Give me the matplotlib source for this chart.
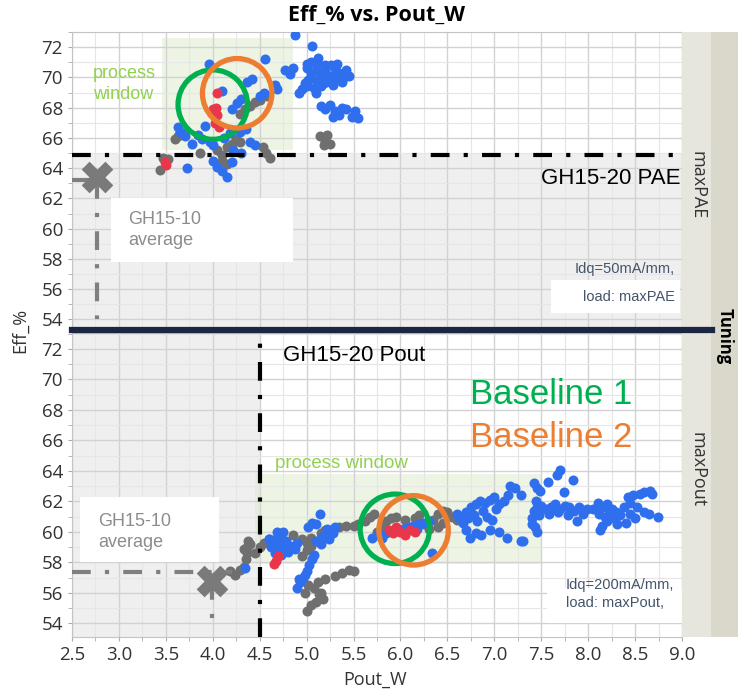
import matplotlib.pyplot as plt
from matplotlib.patches import Rectangle
from matplotlib.lines import Line2D

# ---- top panel (maxPAE) ----
top_blue_x = [4.88, 5.06, 5.12, 5.0, 5.05, 5.1, 5.15, 5.2, 5.25, 5.3, 5.35, 5.4, 5.18, 5.08, 5.02,
              4.95, 5.22, 5.28, 5.45, 5.12, 5.32, 5.38, 5.15, 5.26, 4.98,
              5.0, 5.05, 5.2, 5.1, 5.3, 5.35, 5.42, 5.18, 5.25, 5.0, 5.1, 4.92,
              5.15, 5.2, 5.25, 5.3, 5.35, 5.42, 5.48, 5.52, 5.55, 5.28, 5.38,
              3.96, 4.56, 4.36, 4.42, 4.77, 4.86, 4.82, 4.66, 4.68, 4.5, 4.55, 4.1, 3.63, 3.65,
              3.7, 3.84, 3.88, 3.97, 4.0, 4.29, 4.35, 3.73, 4.0, 4.05, 4.1, 4.15, 4.4, 4.45,
              4.26, 4.3, 4.2, 3.78, 3.92, 4.12, 4.18, 4.22, 4.2, 4.3]
top_blue_y = [72.8, 72.1, 71.3, 70.6, 70.2, 70.5, 70.0, 70.4, 70.1, 70.6, 70.3, 70.0, 69.6, 69.3, 69.8,
              69.2, 69.9, 69.5, 70.1, 70.9, 70.9, 69.7, 69.4, 70.8, 69.6,
              70.9, 71.0, 70.8, 69.8, 70.2, 69.9, 70.5, 70.2, 69.7, 69.4, 69.0, 69.0,
              68.1, 67.9, 68.2, 67.8, 67.5, 67.9, 67.4, 67.8, 67.3, 67.4, 68.0,
              70.9, 71.2, 69.7, 69.9, 70.5, 70.6, 70.2, 69.5, 69.2, 68.8, 69.0, 69.1, 66.7, 66.4,
              66.1, 66.2, 65.9, 65.7, 65.5, 66.4, 66.6, 64.0, 64.5, 64.1, 63.8, 63.4, 65.7, 65.5,
              68.3, 68.6, 67.9, 65.6, 66.8, 66.0, 66.3, 65.2, 64.4, 65.0]
top_gray_x = [3.44, 3.47, 3.52, 3.6, 3.63, 3.67, 3.86, 4.05, 4.1, 4.15, 4.2, 4.25, 4.29, 4.1, 4.15,
              4.29, 4.34, 4.4, 4.45, 4.5, 4.58, 4.54, 4.57, 4.61, 5.14, 5.2, 5.25, 5.18, 5.22]
top_gray_y = [63.9, 64.7, 64.6, 65.9, 66.1, 66.3, 65.0, 65.2, 64.9, 65.4, 65.6, 65.9, 65.7, 64.5, 64.3,
              67.6, 67.9, 68.1, 68.4, 68.5, 68.8, 65.4, 65.0, 64.7, 66.1, 65.8, 65.6, 65.5, 66.2]
top_red_x = [4.05, 4.03, 4.0, 4.05, 4.02, 4.07, 3.49, 3.5]
top_red_y = [69.0, 68.0, 67.9, 67.5, 67.0, 66.7, 64.4, 64.2]

# ---- bottom panel (maxPout) ----
bot_blue_x = [4.34, 4.6, 4.62, 4.65, 4.68, 4.7, 4.72, 4.75, 4.78, 4.8, 4.82, 4.68, 4.75, 4.85, 4.73,
              4.66, 4.9, 4.88, 5.14, 5.02, 5.06, 5.1, 4.9, 4.93, 4.96, 5.0, 5.03, 5.06, 5.08, 4.98,
              4.92, 5.1, 5.15, 5.2, 5.24, 5.28, 5.22, 5.3, 5.15, 5.7, 5.75, 5.8, 5.85, 5.98, 6.03,
              6.08, 6.13, 6.2, 6.25, 6.3, 6.18, 6.34,
              6.64, 6.7, 6.75, 6.8, 6.85, 6.9, 6.95, 7.0, 7.05, 6.72, 6.78, 6.82, 6.88, 6.92, 6.98,
              7.02, 6.67, 6.7, 6.74, 6.8, 6.86, 6.95, 7.05, 7.13, 6.6, 6.62, 7.1, 7.15, 7.17, 7.28,
              7.22, 7.28, 7.31, 7.43, 7.45, 7.4, 7.42, 7.46, 7.49, 7.57, 7.67, 7.70, 7.84, 7.74,
              7.42, 7.45, 7.5, 7.55, 7.6, 7.65, 7.7, 7.75, 7.8, 7.85, 7.9, 7.48, 7.58, 7.68, 7.78,
              7.88, 7.94, 7.99, 7.4, 7.44,
              8.1, 8.15, 8.2, 8.25, 8.3, 8.12, 8.18, 8.28, 8.34, 8.22, 8.13, 8.15, 8.2, 8.31, 8.05,
              8.38, 8.45, 8.5, 8.4, 8.42, 8.48, 8.55, 8.6, 8.66, 8.68, 8.59, 8.65, 8.74, 8.52, 8.45]
bot_blue_y = [57.6, 59.5, 59.0, 59.2, 59.6, 58.8, 59.3, 59.0, 59.4, 58.7, 59.1, 60.0, 60.0, 59.0, 58.5,
              58.6, 59.3, 58.9, 61.2, 60.3, 60.6, 60.5, 56.3, 56.7, 57.0, 57.4, 57.8, 58.2, 58.5, 57.2,
              56.9, 59.4, 59.6, 59.8, 59.5, 59.9, 60.2, 60.3, 59.2, 59.6, 59.8, 59.6, 59.9, 60.1, 60.2,
              60.3, 60.4, 60.5, 60.6, 60.7, 60.2, 58.6,
              61.0, 61.3, 61.6, 61.8, 62.0, 61.9, 62.1, 62.3, 61.8, 60.9, 61.1, 60.7, 61.4, 61.0, 60.8,
              61.5, 60.6, 60.1, 59.6, 59.9, 59.8, 60.1, 60.0, 59.6, 61.2, 60.9, 62.0, 62.4, 63.0, 62.4,
              62.9, 59.4, 59.4, 60.3, 60.0, 60.5, 63.2, 62.9, 62.7, 63.25, 63.7, 64.04, 63.4, 62.6,
              61.4, 61.6, 61.7, 61.5, 61.6, 61.8, 61.5, 61.7, 61.6, 61.4, 61.6, 61.1, 61.2, 61.3, 61.1,
              60.7, 61.2, 61.5, 60.9, 62.0,
              61.9, 61.6, 61.8, 61.5, 61.3, 61.2, 61.0, 60.9, 61.1, 61.4, 60.1, 60.4, 60.7, 60.5, 61.5,
              61.6, 61.2, 60.9, 60.6, 62.3, 62.4, 62.5, 62.6, 62.7, 62.5, 61.3, 61.2, 61.0, 61.6, 61.9]
bot_gray_x = [4.18, 4.24, 4.29, 4.33, 4.35, 4.36, 4.37, 4.4, 4.33, 4.38,
              4.45, 4.5, 4.55, 4.6, 4.72, 4.85, 4.95, 5.0, 5.05, 5.15, 5.2, 5.28, 5.35, 5.42, 5.5,
              5.55, 5.62, 5.68, 5.72,
              4.98, 5.02, 5.08, 5.12, 5.15, 5.17, 5.1, 5.2, 5.3, 5.38, 5.45, 5.5, 5.0, 5.05, 5.13,
              4.95, 5.0, 5.05,
              5.75, 5.8, 5.85, 5.9, 5.95, 6.05, 6.15, 6.2, 6.25, 6.3, 6.35, 6.4, 6.45, 6.5, 6.55,
              6.6, 6.45, 6.4]
bot_gray_y = [57.4, 57.2, 57.5, 57.7, 58.2, 58.6, 59.0, 59.2, 58.9, 59.4,
              58.6, 59.0, 59.3, 59.5, 59.7, 59.8, 59.5, 59.3, 59.6, 59.9, 60.1, 60.2, 60.3, 60.4, 60.4,
              60.5, 60.7, 61.0, 61.2,
              56.0, 56.5, 56.3, 56.7, 56.0, 55.6, 55.4, 56.9, 57.1, 57.3, 57.5, 57.4, 54.8, 55.2, 55.9,
              58.4, 58.8, 59.1,
              60.0, 60.4, 60.7, 60.9, 61.0, 60.8, 60.9, 61.1, 60.5, 60.2, 60.8, 61.2, 61.4, 61.3, 61.0,
              60.8, 60.6, 60.3]
bot_red_x = [4.65, 4.67, 4.7, 5.88, 5.92, 5.95, 6.0, 6.05, 6.1, 6.15]
bot_red_y = [57.9, 58.1, 58.4, 60.1, 59.9, 60.3, 60.0, 59.8, 60.1, 60.0]

# baseline circle centres (x, y) per panel
top_base1 = (4.0, 68.2)
top_base2 = (4.26, 68.95)
bot_base1 = (5.94, 60.2)
bot_base2 = (6.14, 60.1)

x_ticks = [2.5, 3.0, 3.5, 4.0, 4.5, 5.0, 5.5, 6.0, 6.5, 7.0, 7.5, 8.0, 8.5, 9.0]
y_ticks = [54, 56, 58, 60, 62, 64, 66, 68, 70, 72]

BLUE = "#2f6fee"
GRAY = "#6f6f6f"
RED = "#e8374a"
GREEN = "#00b050"
ORANGE = "#ed7d31"
PW_GREEN = "#92d050"
ANN = "Liberation Sans"
DASHDOT = (0, (4.5, 3.4, 1, 3.4))

W, H = 738, 692
fig = plt.figure(figsize=(W / 100, H / 100), dpi=100)


def fbox(l, t, r, b):
    return [l / W, 1 - b / H, (r - l) / W, (b - t) / H]


ax_top = fig.add_axes(fbox(72, 32, 682, 330))
ax_bot = fig.add_axes(fbox(72, 333, 682, 637))

for ax, ylo, yhi in [(ax_top, 53.3, 73.0), (ax_bot, 53.1, 73.05)]:
    ax.set_xlim(2.5, 9.0)
    ax.set_ylim(ylo, yhi)
    ax.set_xticks(x_ticks)
    ax.set_yticks(y_ticks)
    ax.set_xticks([v + 0.25 for v in x_ticks[:-1]], minor=True)
    ax.set_yticks([v + 1 for v in y_ticks], minor=True)
    ax.set_axisbelow(True)
    ax.grid(which="major", color="#d2d2d2", lw=1.0)
    ax.grid(which="minor", color="#e6e6e6", lw=0.8)
    ax.tick_params(which="both", length=3, color="#aaaaaa", labelsize=13.5, labelcolor="#333333")
    for s in ax.spines.values():
        s.set_color("#c4c4c4")
    for lab in ax.get_yticklabels() + ax.get_xticklabels():
        lab.set_family("Open Sans")

ax_top.tick_params(axis="x", labelbottom=False, length=0, which="both")
ax_top.spines["bottom"].set_visible(False)

# shaded regions
ax_top.axhspan(53.3, 65.0, color="#efefef", zorder=0.1, lw=0)
ax_bot.axvspan(2.5, 4.5, color="#efefef", zorder=0.1, lw=0)

# process windows
ax_top.add_patch(Rectangle((3.46, 65.2), 1.39, 7.4, color="#dfeccf", alpha=0.55, lw=0, zorder=0.3))
ax_bot.add_patch(Rectangle((4.45, 57.9), 3.06, 5.9, color="#dfeccf", alpha=0.55, lw=0, zorder=0.3))

# white label boxes
for ax, (x0, y0, w, h) in [(ax_top, (2.92, 57.8, 1.93, 4.2)), (ax_top, (7.6, 54.4, 1.38, 2.2)),
                           (ax_bot, (2.585, 58.0, 1.485, 4.3)), (ax_bot, (7.56, 54.0, 1.44, 2.3))]:
    ax.add_patch(Rectangle((x0, y0), w, h, color="white", lw=0, zorder=1))

# points
ms = 52
ax_top.scatter(top_gray_x, top_gray_y, s=ms, color=GRAY, lw=0, zorder=3)
ax_top.scatter(top_blue_x, top_blue_y, s=ms, color=BLUE, lw=0, zorder=3)
ax_top.scatter(top_red_x, top_red_y, s=ms, color=RED, lw=0, zorder=3)
ax_bot.scatter(bot_gray_x, bot_gray_y, s=ms, color=GRAY, lw=0, zorder=3)
ax_bot.scatter(bot_blue_x, bot_blue_y, s=ms, color=BLUE, lw=0, zorder=3)
ax_bot.scatter(bot_red_x, bot_red_y, s=ms, color=RED, lw=0, zorder=3)

# baseline circles
for ax, c1, c2 in [(ax_top, top_base1, top_base2), (ax_bot, bot_base1, bot_base2)]:
    ax.scatter([c1[0]], [c1[1]], s=2500, facecolor="none", edgecolor=GREEN, lw=3.8, zorder=4)
    ax.scatter([c2[0]], [c2[1]], s=2500, facecolor="none", edgecolor=ORANGE, lw=3.8, zorder=4)

# reference lines
ax_top.axhline(64.9, color="black", lw=3, ls=DASHDOT, zorder=3.5)
ax_bot.axvline(4.5, color="black", lw=3, ls=DASHDOT, zorder=3.5)
ax_top.plot([2.5, 2.77], [63.2, 63.2], color="#7f7f7f", lw=3, ls=DASHDOT, zorder=3.5)
ax_top.plot([2.77, 2.77], [63.2, 54.0], color="#7f7f7f", lw=3, ls=DASHDOT, zorder=3.5)
ax_top.scatter([2.77], [63.4], marker="X", s=520, color="#7a7a7a", lw=0, zorder=3.6)
ax_bot.plot([2.5, 4.2], [57.35, 57.35], color="#7f7f7f", lw=3, ls=DASHDOT, zorder=3.5)
ax_bot.plot([3.99, 3.99], [56.8, 54.0], color="#7f7f7f", lw=3, ls=DASHDOT, zorder=3.5)
ax_bot.scatter([3.99], [56.8], marker="X", s=520, color="#7a7a7a", lw=0, zorder=3.6)

# annotations top
ax_top.text(2.72, 69.55, "process\nwindow", color=PW_GREEN, fontsize=13, family=ANN,
            va="center", ha="left", linespacing=1.3, zorder=5)
ax_top.text(3.1, 59.9, "GH15-10\naverage", color="#8c8c8c", fontsize=13, family=ANN,
            va="center", ha="left", linespacing=1.3, zorder=5)
ax_top.text(8.98, 64.0, "GH15-20 PAE", color="black", fontsize=16, family=ANN,
            va="top", ha="right", zorder=5)
ax_top.text(8.92, 57.3, "Idq=50mA/mm,", color="#44546a", fontsize=10.5, family=ANN,
            va="center", ha="right", zorder=5)
ax_top.text(8.92, 55.5, "load: maxPAE", color="#44546a", fontsize=10.5, family=ANN,
            va="center", ha="right", zorder=5)

# annotations bottom
ax_bot.text(4.75, 71.6, "GH15-20 Pout", color="black", fontsize=16, family=ANN,
            va="center", ha="left", zorder=5)
ax_bot.text(6.74, 69.0, "Baseline 1", color=GREEN, fontsize=25, family=ANN,
            va="center", ha="left", zorder=5)
ax_bot.text(6.74, 66.2, "Baseline 2", color=ORANGE, fontsize=25, family=ANN,
            va="center", ha="left", zorder=5)
ax_bot.text(4.66, 64.5, "process window", color=PW_GREEN, fontsize=13.5, family=ANN,
            va="center", ha="left", zorder=5)
ax_bot.text(2.78, 60.0, "GH15-10\naverage", color="#8c8c8c", fontsize=13, family=ANN,
            va="center", ha="left", linespacing=1.3, zorder=5)
ax_bot.text(7.76, 55.9, "Idq=200mA/mm,\nload: maxPout,", color="#44546a", fontsize=10.5,
            family=ANN, va="center", ha="left", linespacing=1.35, zorder=5)

# facet strips
fig.patches.append(Rectangle((682 / W, 1 - 637 / H), 29 / W, 605 / H, transform=fig.transFigure,
                             color="#e6e5de", lw=0, zorder=0))
fig.patches.append(Rectangle((711 / W, 1 - 637 / H), 27 / W, 605 / H, transform=fig.transFigure,
                             color="#d9d8ca", lw=0, zorder=0))
fig.text(697 / W, 1 - 185 / H, "maxPAE", rotation=-90, ha="center", va="center",
         fontsize=13, color="#333333", family="Open Sans")
fig.text(697 / W, 1 - 470 / H, "maxPout", rotation=-90, ha="center", va="center",
         fontsize=13, color="#333333", family="Open Sans")
fig.text(725 / W, 1 - 336 / H, "Tuning", rotation=-90, ha="center", va="center",
         fontsize=12, color="black", weight="bold", family="Open Sans")

# navy divider
fig.add_artist(Line2D([72 / W, 712 / W], [1 - 330 / H, 1 - 330 / H], color="#1c2541", lw=4.5,
                      transform=fig.transFigure, zorder=10))

fig.text(377 / W, 1 - 15 / H, "Eff_% vs. Pout_W", ha="center", va="center", fontsize=15.5,
         weight="bold", color="black", family="Open Sans")
fig.text(20 / W, 1 - 330 / H, "Eff_%", rotation=90, ha="center", va="center", fontsize=13,
         color="#333333", family="Open Sans")
fig.text(375 / W, 1 - 680 / H, "Pout_W", ha="center", va="center", fontsize=13,
         color="#333333", family="Open Sans")

fig.savefig("out.png", dpi=100)
